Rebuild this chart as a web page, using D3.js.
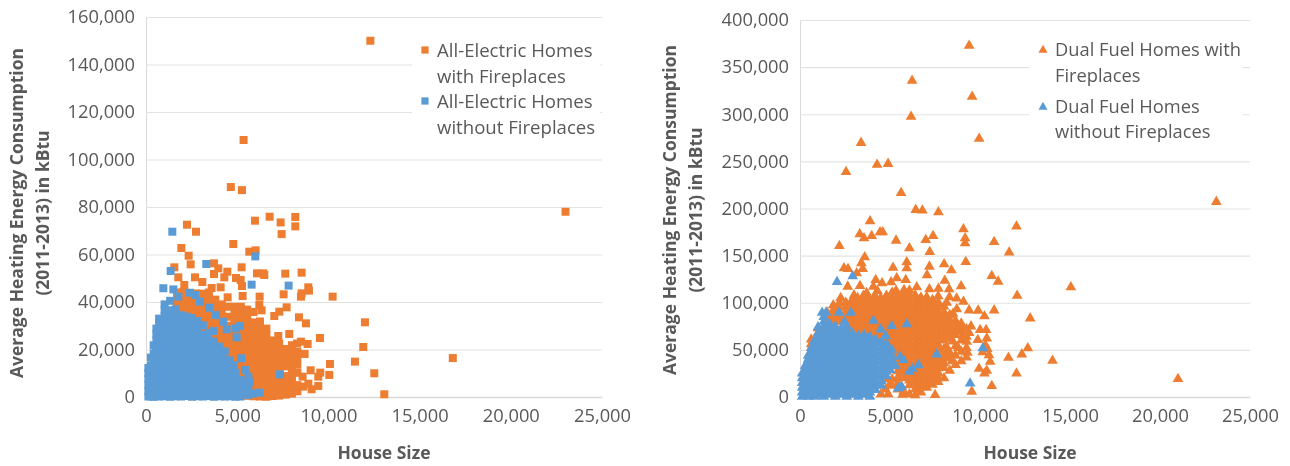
<!DOCTYPE html>
<html>
<head>
<meta charset="utf-8">
<script src="https://cdn.jsdelivr.net/npm/d3@7"></script>
<style>
  html, body { margin: 0; padding: 0; background: #fff; }
  svg { display: block; filter: blur(0.4px); }
  text { font-family: "Open Sans", Lato, sans-serif; fill: #595959; }
</style>
</head>
<body>
<svg id="chart" width="1290" height="466"></svg>
<script>
const xTicks = [0, 5000, 10000, 15000, 20000, 25000];
const yTicksElectric = [0, 20000, 40000, 60000, 80000, 100000, 120000, 140000, 160000];
const yTicksDual = [0, 50000, 100000, 150000, 200000, 250000, 300000, 350000, 400000];

const yTitleLines = ["Average Heating Energy Consumption", "(2011-2013) in kBtu"];
const xTitle = "House Size";
const electricLegend = [["All-Electric Homes", "with Fireplaces"], ["All-Electric Homes", "without Fireplaces"]];
const dualLegend = [["Dual Fuel Homes with", "Fireplaces"], ["Dual Fuel Homes", "without Fireplaces"]];

// scattered all-electric homes with fireplaces, read one by one
const electricFireSparse = [
  [12300,150000],[5350,108200],[4650,88400],[5260,87100],[23000,78000],[16820,16400],
  [5974,74240],[6778,75900],[7381,73500],[8185,75780],[8185,71850],[7436,68600],[2247,72550],[2740,69600],
  [4787,64420],[1937,62730],[2338,59500],[2448,55860],[5664,61190],[6011,61750],[3727,56280],[3964,54180],
  [5243,54600],[1553,54600],[4458,52770],[4293,50390],[3727,51790],[6084,52070],[6431,52070],[6486,51370],
  [7637,51930],[8532,52350],[1772,50390],[2686,50390],[3088,48420],[4933,50100],[5189,49260],[5262,46740],
  [3599,45900],[4092,46180],[2101,47160],[8897,46180],[8934,44780],[8532,43650],[8495,42250],[7545,43230],
  [10231,42250],[4476,41970],[5298,42530],[6230,42250],[6212,38740],[6340,36500],[7710,37760],[7308,35930],
  [7034,34110],[8386,33550],[8770,31020],[12003,31450],[9537,24850],[7856,26540],[7253,25700],[8495,23310],
  [8861,22330],[11912,21060],[8696,18120],[10085,13910],[11455,14890],[9025,11240],[9555,10260],[10048,9280],
  [12515,9980],[8587,8580],[9445,8580],[9445,4650],[9080,3250],[13063,1140],[8623,4370],[8900,5600],[8280,22500]
];
// dense body, one row per house size: x, then the y values at that x
const electricFireDense = [
  [1700,36500,39000,41500,44000],
  [2050,34500,37000,39600,42100,44400],
  [2400,32500,35000,37600,40200,43000],
  [2750,30500,33000,35600,38200,40800,43600],
  [3100,28500,31000,33500,36100,38700,41200,43500],
  [3450,25500,28000,30600,33200,35800,38400,41000,44000],
  [3800,22500,25000,27600,30200,32800,35400,38000,41000],
  [4150,18500,21000,23600,26200,28800,31400,34000,36500,39000],
  [4500,14500,17000,19600,22200,24800,27400,30000,33800,38000],
  [4850,9500,12000,14600,17200,19800,22400,25000,27600,30200,32800,35400,38000],
  [5200,4500,7000,9600,12200,14800,17400,20000,22600,25200,27800,30400,33000,35600,38000],
  [5550,500,3000,5600,8200,10800,13400,16000,18600,21200,23800,26400,29000,31600,34200,36800],
  [5900,300,2800,5400,8000,10600,13200,15800,18400,21000,23600,26200,28800,31400,35800],
  [6250,200,2600,5200,7800,10400,13000,15600,18200,20800,23400,26000,28600,31800],
  [6600,100,2600,5200,7800,10400,13000,15600,18200,20800,23400,26000,28800],
  [6950,400,3000,5600,8200,10800,13400,16000,18600,21200,23800],
  [7300,600,3200,5800,8400,12700,15400,18000,20600,22500],
  [7650,1000,3600,6200,8800,12900,15800,18400,20200],
  [8000,1400,4000,6600,9200,11800,14400,17000,19600,21800],
  [8300,2400,5000,10200,13600,16600,19000]
];
const electricNoFireSparse = [
  [1443,69600],[1352,53050],[3307,56000],[5993,59200],[5791,47300],[7820,46900],[1500,45300],[950,45800],
  [1772,42250],[2412,43900],[2686,42950],[2960,40150],[3471,37600],[3837,34500],[4239,31700],[5152,29900],
  [4933,28900],[4421,28500],[4969,25100],[3690,27800],[7345,9560],[5207,16300],[6212,1840],[5609,850],
  [5426,11400],[5609,8580],[5152,7200],[5609,3400],[5900,1500],[5420,6000],[5300,2500],[5700,6400],[4800,13400]
];
const electricNoFireDense = [
  [130,200,2500,5100,7600,10100,12200],
  [270,300,2800,5400,8000,10600,13200,16600],
  [420,100,2700,5300,7900,10500,13100,15700,18300,21800],
  [570,400,3000,5600,8200,10800,13400,16000,18600,21200,23800,26400,28800],
  [720,200,2800,5400,8000,10600,13200,15800,18400,21000,23600,26200,28800,31400,33000],
  [1020,300,2900,5500,8100,10700,13300,15900,18500,21100,23700,26300,28900,31500,34100,36700,39000],
  [1320,100,2700,5300,7900,10500,13100,15700,18300,20900,23500,26100,28700,31300,33900,36500,40500],
  [1620,300,2900,5500,8100,10700,13300,15900,18500,21100,23700,26300,28900,31500,34100,36900],
  [1920,200,2800,5400,8000,10600,13200,15800,18400,21000,23600,26200,28800,31400,34400],
  [2220,400,3000,5600,8200,10800,13400,16000,18600,21200,23800,26400,29000,31600,33900],
  [2520,100,2700,5300,7900,10500,13100,15700,18300,20900,23500,26100,28700,31300,33200],
  [2820,300,2900,5500,8100,10700,13300,15900,18500,21100,23700,26300,28900,32000],
  [3120,200,2800,5400,8000,10600,13200,15800,18400,21000,23600,26200,30200],
  [3420,400,3000,5600,8200,10800,13400,16000,18600,21200,23800,26900],
  [3720,100,2700,5300,7900,10500,13100,15700,18300,20900,23300],
  [4020,300,2900,5500,8100,10700,13300,15900,18500,21200],
  [4320,200,2800,5400,8000,10600,13200,15800,19200],
  [4600,300,2900,5500,8100,10700,13300,15400],
  [4900,100,2700,5300,7900,10200],
  [5180,200,2800,4600]
];

const dualFireSparse = [
  [9396,372800],[6227,335600],[9563,318600],[6171,297400],[3392,269700],[9952,274000],[4281,246400],[4893,247400],
  [2558,238900],[5616,216600],[23130,207100],[6430,198600],[6800,197900],[7690,196100],[3891,186500],[12026,180900],
  [9080,178000],[9172,168500],[9172,163200],[3317,172700],[3557,168500],[3984,171000],[4447,174900],[4595,174900],
  [5337,166000],[6986,166700],[7393,171000],[10785,164600],[2186,160300],[6078,157900],[7208,154000],[11618,153300],
  [3595,148300],[5930,143000],[3409,141900],[5930,136600],[3483,135900],[2446,136600],[2668,135900],[5170,137300],
  [7190,138400],[8005,140900],[9210,143400],[8413,134500],[7060,129200],[10655,128500],[3150,131300],[11007,122500],
  [15047,116500],[4206,124200],[4558,120700],[5058,121800],[5374,126000],[5874,124200],[8042,123500],[8950,117500],
  [6486,116500],[2650,117200],[3335,117900],[4076,117200],[12063,107600],[2260,105100],[9080,101200],[7190,114300],
  [7690,115000],[8283,114300],[5781,113600],[5338,112900],[8709,93100],[9395,92000],[9895,91700],[10785,92000],
  [10247,85700],[12786,83500],[10006,71100],[10340,71100],[10377,62300],[9877,60500],[9265,58800],[12656,51700],
  [12323,45300],[11581,41800],[14027,38600],[10562,37500],[9950,30100],[10377,27900],[10247,25100],[12026,25100],
  [10655,11700],[9543,5600],[7505,2100],[21000,19100],[10400,51000],[10500,44500],[10150,47500],[10300,55000],
  [4300,112500],[3700,110500],[3000,108000],[8300,106000],[8700,104500],[8150,100000],
  [4500,3000],[4750,8000],[4900,3000],[5000,14000],[4850,19000],[5700,2500],[8500,88500],[8800,75000],
  [9050,65000],[9400,68000],[9500,75000],[8500,59000],[8150,53000],[8800,52000],[9300,47000],[8450,38000]
];
const dualFireDense = [
  [620,56000,61000],
  [1000,68000,73000],
  [1500,80000,85000,90000],
  [1850,77500,82500,87500,92500,97500],
  [2200,80000,85000,90000,95000,100000],
  [2550,75000,80000,85000,90000,95000,100000],
  [2880,72500,77500,82500,87500,92500,97500,102500],
  [3200,70000,75000,80000,85000,90000,95000,100000,105000],
  [3520,67500,72500,77500,82500,87500,92500,97500,102500,107500],
  [3840,65000,70000,75000,80000,85000,90000,95000,100000,105000],
  [4160,62500,67500,72500,77500,82500,87500,92500,97500,102500,107500],
  [4480,60000,65000,70000,75000,80000,85000,90000,95000,100000,105000],
  [4800,52500,57500,62500,67500,72500,77500,82500,87500,92500,97500,102500,107500],
  [5120,12000,19000,35000,40000,45000,50000,55000,60000,65000,70000,75000,80000,85000,90000,95000,100000,105000,111000],
  [5440,8000,15000,21000,27500,32500,37500,42500,47500,52500,57500,62500,67500,72500,77500,82500,87500,92500,97500,102500,107500],
  [5760,6000,20000,25000,30000,35000,40000,45000,50000,55000,60000,65000,70000,75000,80000,85000,90000,95000,100000,105000,110000],
  [6080,3000,12500,17500,22500,27500,32500,37500,42500,47500,52500,57500,62500,67500,72500,77500,82500,87500,92500,97500,102500,107500,113000],
  [6400,2000,8000,13000,18000,23000,28000,33000,38000,43000,48000,53000,58000,63000,68000,73000,78000,83000,88000,93000,98000,103000,108000],
  [6720,5000,10500,15500,20500,25500,30500,35500,40500,45500,50500,55500,60500,65500,70500,75500,80500,85500,90500,95500,100500,105500],
  [7040,10000,15000,20000,25000,30000,35000,40000,45000,50000,55000,60000,65000,70000,75000,80000,85000,90000,95000,100000,106000],
  [7360,13000,18000,23000,28000,33000,38000,43000,48000,53000,58000,63000,68000,73000,78000,83000,88000,93000,98000,103000],
  [7680,16000,20500,25500,30500,35500,40500,45500,50500,55500,60500,65500,70500,75500,80500,85500,90500,95500,100500,107000],
  [8000,20000,31000,36000,41000,46000,51000,60000,65000,70000,75000,80000,85000,90000,96000],
  [8320,28000,42000,47000,62000,67000,72000,77000,82000,87000],
  [8640,34000,44000,54000,66000,71000,76000,81000],
  [8960,38000,48000,60000,69000,74000,78000],
  [9250,42000,52000,64000,72000]
];
const dualNoFireSparse = [
  [2057,122100],[2928,128100],[9450,14500],[10155,51700],[7597,45300],[5930,77200],[5096,75400],[4484,71800],
  [4077,81000],[2835,89500],[2168,89500],[1445,89500],[1230,89500],[2465,80000],[4762,64800],[5559,42800],
  [5744,39300],[6578,33900],[6078,26900],[6250,30000],[5652,11000],[5450,9000],[5003,28700],[5300,33000]
];
const dualNoFireDense = [
  [120,500,5000,10000,15000,20000,25000],
  [280,2500,7500,12500,17500,22500,27500,33000],
  [450,500,5000,10000,15000,20000,25000,30000,35000,40000,44000],
  [620,2500,7500,12500,17500,22500,27500,32500,37500,42500,47500,52000],
  [800,500,5000,10000,15000,20000,25000,30000,35000,40000,45000,50000,55000,60000],
  [1000,2500,7500,12500,17500,22500,27500,32500,37500,42500,47500,52500,57500,62500,67500,74000],
  [1320,500,5000,10000,15000,20000,25000,30000,35000,40000,45000,50000,55000,60000,65000,70000,75000,80000,85000],
  [1640,2500,7500,12500,17500,22500,27500,32500,37500,42500,47500,52500,57500,62500,67500,72500,77500],
  [1960,500,5000,10000,15000,20000,25000,30000,35000,40000,45000,50000,55000,60000,65000,70000,75000],
  [2280,2500,7500,12500,17500,22500,27500,32500,37500,42500,47500,52500,57500,62500,67500,72500],
  [2600,500,5000,10000,15000,20000,25000,30000,35000,40000,45000,50000,55000,60000,65000,70000,75000],
  [2920,2500,7500,12500,17500,22500,27500,32500,37500,42500,47500,52500,57500,62500,67500],
  [3240,500,5000,10000,15000,20000,25000,30000,35000,40000,45000,50000,55000,60000,65000],
  [3560,2500,7500,12500,17500,22500,27500,32500,37500,42500,47500,52500,57500,62500,66000],
  [3880,500,5000,10000,15000,20000,25000,30000,35000,40000,45000,50000,55000,60000,64000],
  [4200,7500,12500,17500,22500,27500,32500,37500,42500,47500,52500,57500,61000],
  [4520,12000,17000,22000,27000,32000,37000,42000,47000,52000,58000],
  [4800,22000,27000,32000,37000,42000,47000,52000,57000],
  [5100,34000,39000,44000,50000]
];

const expand = rows => rows.flatMap(([x, ...ys]) => ys.map(y => [x, y]));

const ORANGE = "#ed7d31", BLUE = "#5b9bd5";
const svg = d3.select("#chart");

function drawPanel(o) {
  const x = d3.scaleLinear().domain([0, 25000]).range(o.xRange);
  const y = d3.scaleLinear().domain([0, d3.max(o.yTicks)]).range(o.yRange);
  const g = svg.append("g");

  const yAxis = g.append("g").attr("transform", "translate(" + o.xRange[0] + ",0)")
    .call(d3.axisLeft(y).tickValues(o.yTicks).tickFormat(d3.format(",")).tickSize(-(o.xRange[1] - o.xRange[0])).tickPadding(11));
  yAxis.select(".domain").attr("stroke", "#d9d9d9");
  yAxis.selectAll("line").attr("stroke", "#e3e3e3").attr("stroke-width", 1.2);
  yAxis.selectAll("text").style("font-size", "18.3px");

  const xAxis = g.append("g").attr("transform", "translate(0," + o.yRange[0] + ")")
    .call(d3.axisBottom(x).tickValues(xTicks).tickFormat(d3.format(",")).tickSize(0).tickPadding(12));
  xAxis.select(".domain").attr("stroke", "#d9d9d9").attr("stroke-width", 1.4);
  xAxis.selectAll("text").style("font-size", "18.3px");

  const series = [[o.fire, ORANGE], [o.noFire, BLUE]];
  const mark = d3.symbol().type(o.symbol).size(o.size);
  series.forEach(([pts, color]) => {
    g.append("g").selectAll("path").data(pts).join("path")
      .attr("d", mark)
      .attr("fill", color)
      .attr("transform", d => "translate(" + x(d[0]) + "," + y(d[1]) + ")");
  });

  // legend sits on a white box that hides the gridlines
  g.append("rect").attr("x", o.legendBox[0]).attr("y", o.legendBox[1])
    .attr("width", o.legendBox[2]).attr("height", o.legendBox[3]).attr("fill", "#fff");
  o.legend.forEach((lines, i) => {
    g.append("path").attr("d", d3.symbol().type(o.symbol).size(o.legendSize))
      .attr("fill", series[i][1])
      .attr("transform", "translate(" + o.legendX + "," + o.legendY[i * 2] + ")");
    lines.forEach((line, j) => {
      g.append("text").attr("x", o.legendX + 12).attr("y", o.legendY[i * 2 + j])
        .attr("dy", "0.35em").style("font-size", o.legendFont).text(line);
    });
  });

  g.append("text").attr("x", o.xTitleX).attr("y", 459).attr("text-anchor", "middle")
    .style("font-size", "17.5px").style("font-weight", "700").text(xTitle);
  yTitleLines.forEach((line, i) => {
    g.append("text").attr("transform", "translate(" + (o.yTitleX + i * 25.5) + "," + o.yTitleY + ") rotate(-90)")
      .attr("text-anchor", "middle").style("font-size", "17.5px").style("font-weight", "700").text(line);
  });
}

drawPanel({
  xRange: [146, 602], yRange: [397, 17], yTicks: yTicksElectric,
  fire: electricFireSparse.concat(expand(electricFireDense)),
  noFire: expand(electricNoFireDense).concat(electricNoFireSparse),
  symbol: d3.symbolSquare, size: 64, legendSize: 52,
  legend: electricLegend, legendX: 425, legendY: [50, 76, 101, 127], legendFont: "18.6px",
  legendBox: [412, 30, 188, 110],
  xTitleX: 384, yTitleX: 23, yTitleY: 213
});

drawPanel({
  xRange: [800, 1250], yRange: [397, 20], yTicks: yTicksDual,
  fire: dualFireSparse.concat(expand(dualFireDense)),
  noFire: expand(dualNoFireDense).concat(dualNoFireSparse),
  symbol: d3.symbolTriangle, size: 50, legendSize: 36,
  legend: dualLegend, legendX: 1043, legendY: [50, 76, 107, 132], legendFont: "18.3px",
  legendBox: [1029, 30, 214, 110],
  xTitleX: 1030, yTitleX: 676, yTitleY: 210
});
</script>
</body>
</html>
